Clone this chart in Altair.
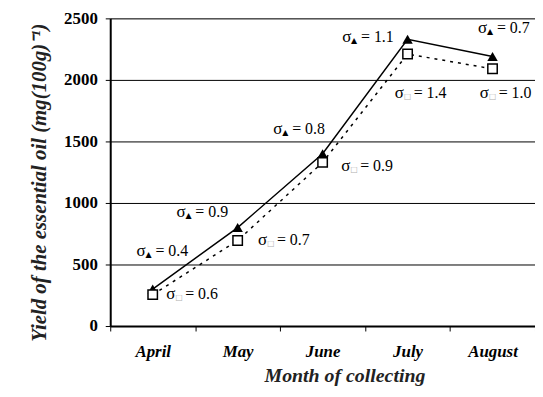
import altair as alt
import pandas as pd

months = ["April", "May", "June", "July", "August"]
tri_vals = [300, 800, 1400, 2330, 2190]
sq_vals = [255, 695, 1330, 2210, 2090]

lab_series = ["tri", "sq", "tri", "sq", "tri", "sq", "tri", "sq", "tri", "sq"]
lab_text = ["= 0.4", "= 0.6", "= 0.9", "= 0.7", "= 0.8", "= 0.9", "= 1.1", "= 1.4", "= 0.7", "= 1.0"]
lab_x = [-0.19, 0.16, 0.28, 1.24, 1.42, 2.22, 2.23, 2.85, 3.83, 3.85]
lab_y = [610, 258, 925, 700, 1597, 1300, 2347, 1895, 2419, 1895]

FONT = "Liberation Serif"

df = pd.DataFrame({
    "month": months * 2,
    "value": tri_vals + sq_vals,
    "series": ["tri"] * 5 + ["sq"] * 5,
})
lab = pd.DataFrame({
    "series": lab_series,
    "txt": lab_text,
    "x": lab_x,
    "value": lab_y,
    "sym": ["▲" if s == "tri" else "□" for s in lab_series],
})

xenc = alt.X("month:N", sort=months, scale=alt.Scale(type="band", domain=months, paddingInner=0, paddingOuter=0),
             axis=alt.Axis(title="Month of collecting", tickBand="extent", labelAngle=0,
                           labelFont=FONT, labelFontSize=17, labelFontWeight="bold", labelFontStyle="italic",
                           labelColor="black", labelPadding=13, tickColor="black", tickSize=5, tickWidth=1,
                           domainColor="black", domainWidth=2, grid=False,
                           titleFont=FONT, titleFontSize=20, titleFontWeight="bold", titleFontStyle="italic",
                           titleColor="#222", titlePadding=6, titleX=236))
yscale = alt.Scale(domain=[0, 2500])
yenc = alt.Y("value:Q", scale=yscale,
             axis=alt.Axis(title="Yield of the essential oil (mg(100g)⁻¹)", values=[0, 500, 1000, 1500, 2000, 2500],
                           format="d",
                           labelFont=FONT, labelFontSize=17, labelFontWeight="bold", labelColor="black",
                           labelPadding=8, tickColor="black", tickSize=5, tickWidth=1,
                           domainColor="black", domainWidth=2, gridColor="black", gridWidth=1,
                           titleFont=FONT, titleFontSize=21, titleFontWeight="bold", titleFontStyle="italic",
                           titleColor="#222", titlePadding=14, titleY=165))

base = alt.Chart(df)
line_tri = base.transform_filter("datum.series == 'tri'").mark_line(color="black", strokeWidth=1.5).encode(x=xenc, y=yenc)
line_sq = base.transform_filter("datum.series == 'sq'").mark_line(color="black", strokeWidth=1.5, strokeDash=[3, 5]).encode(x=xenc, y=yenc)
pt_tri = base.transform_filter("datum.series == 'tri'").mark_point(shape="triangle-up", filled=True, color="black", size=110, opacity=1).encode(x=xenc, y=yenc)
pt_sq = base.transform_filter("datum.series == 'sq'").mark_point(shape="square", filled=True, fill="white", stroke="black", strokeWidth=1.5, size=90, opacity=1).encode(x=xenc, y=yenc)
main = alt.layer(line_tri, line_sq, pt_tri, pt_sq)

lx = alt.X("x:Q", scale=alt.Scale(domain=[-0.5, 4.5], nice=False, zero=False), axis=None)
lb = alt.Chart(lab)
t_sig = lb.mark_text(text="σ", align="left", baseline="middle", font=FONT, fontSize=17, color="black").encode(x=lx, y=yenc)
t_sym = lb.mark_text(align="left", baseline="middle", dx=9, dy=4, font="DejaVu Sans", fontSize=8).encode(
    x=lx, y=yenc, text="sym:N",
    color=alt.Color("series:N", scale=alt.Scale(domain=["tri", "sq"], range=["black", "#b0b0b0"]), legend=None))
t_val = lb.mark_text(align="left", baseline="middle", dx=19, font=FONT, fontSize=16, color="black").encode(x=lx, y=yenc, text="txt:N")
texts = alt.layer(t_sig, t_sym, t_val)

chart = alt.layer(main, texts).resolve_scale(x="independent").properties(
    width=428, height=310,
    autosize=alt.AutoSizeParams(type="none"),
    padding={"left": 103, "top": 9, "right": 0, "bottom": 62},
).configure_view(stroke="#cccccc", strokeWidth=1).configure(background="white")

chart.save("out.html", embed_options={"renderer": "svg", "actions": False})
